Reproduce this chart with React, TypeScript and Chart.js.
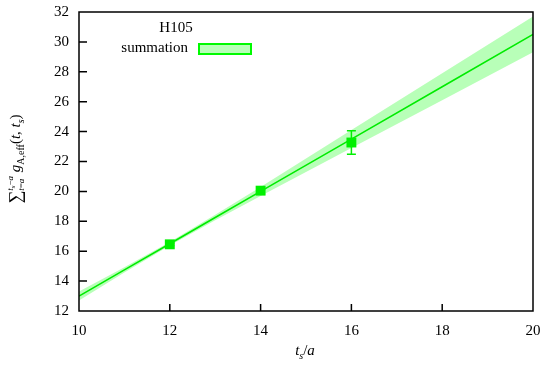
import React, { useEffect, useRef } from "react";
import { Chart, registerables } from "chart.js";

Chart.register(...registerables);

// ---- data ----
const bandX = [10, 11, 12, 13, 14, 16, 18, 20];
const fitCenter = [13.0, 14.75, 16.5, 18.25, 20.0, 23.5, 27.0, 30.5];
const bandUpper = [13.3, 14.93, 16.62, 18.43, 20.3, 24.1, 27.9, 31.7];
const bandLower = [12.7, 14.57, 16.38, 18.07, 19.7, 22.9, 26.1, 29.3];
const pointX = [12, 14, 16];
const pointY = [16.46, 20.05, 23.27];
const pointErr = [0.08, 0.22, 0.79];
const xMin = 10;
const xMax = 20;
const yMin = 12;
const yMax = 32;
const tickStep = 2;
const legendTitle = "H105";
const seriesName = "summation";

const FONT = '"Liberation Serif", "Times New Roman", serif';
const LINE_GREEN = "rgb(0,235,0)";
const POINT_GREEN = "rgb(0,240,0)";
const BAND_FILL = "rgba(0,255,0,0.28)";

type Seg = { t: string; size: number; italic?: boolean; dy?: number };
type Item = Seg | { stack: Seg[][] };

function segFont(s: Seg) {
  return `${s.italic ? "italic " : ""}${s.size}px ${FONT}`;
}
function segsWidth(ctx: CanvasRenderingContext2D, segs: Seg[]) {
  let w = 0;
  for (const s of segs) {
    ctx.font = segFont(s);
    w += ctx.measureText(s.t).width;
  }
  return w;
}
function itemWidth(ctx: CanvasRenderingContext2D, it: Item) {
  if ("stack" in it) return Math.max(...it.stack.map((r) => segsWidth(ctx, r)));
  return segsWidth(ctx, [it]);
}
function drawSegs(ctx: CanvasRenderingContext2D, segs: Seg[], x: number, y: number) {
  let cx = x;
  for (const s of segs) {
    ctx.font = segFont(s);
    ctx.fillText(s.t, cx, y - (s.dy || 0));
    cx += ctx.measureText(s.t).width;
  }
}
function drawRich(
  ctx: CanvasRenderingContext2D,
  items: Item[],
  cx: number,
  cy: number,
  rot: number
) {
  ctx.save();
  ctx.translate(cx, cy);
  ctx.rotate(rot);
  ctx.fillStyle = "#000";
  ctx.textAlign = "left";
  ctx.textBaseline = "alphabetic";
  let total = 0;
  for (const it of items) total += itemWidth(ctx, it);
  let x = -total / 2;
  const baseY = 5;
  for (const it of items) {
    if ("stack" in it) {
      for (const row of it.stack) drawSegs(ctx, row, x, baseY);
    } else {
      drawSegs(ctx, [it], x, baseY);
    }
    x += itemWidth(ctx, it);
  }
  ctx.restore();
}

const yTitleItems: Item[] = [
  { t: "\u2211", size: 18, dy: -1 },
  {
    stack: [
      [
        { t: "t", size: 9, italic: true, dy: 7 },
        { t: "s", size: 7, italic: true, dy: 5 },
        { t: "\u2212", size: 9, dy: 7 },
        { t: "a", size: 9, italic: true, dy: 7 },
      ],
      [
        { t: "t", size: 9, italic: true, dy: -4 },
        { t: "=", size: 9, dy: -4 },
        { t: "a", size: 9, italic: true, dy: -4 },
      ],
    ],
  },
  { t: " g", size: 15, italic: true },
  { t: "A,eff", size: 10, dy: -4 },
  { t: "(", size: 15 },
  { t: "t", size: 15, italic: true },
  { t: ", ", size: 15 },
  { t: "t", size: 15, italic: true },
  { t: "s", size: 10, italic: true, dy: -4 },
  { t: ")", size: 15 },
];

const xTitleItems: Item[] = [
  { t: "t", size: 15, italic: true },
  { t: "s", size: 10, italic: true, dy: -4 },
  { t: "/", size: 15 },
  { t: "a", size: 15, italic: true },
];

const decorPlugin = {
  id: "decor",
  afterDatasetsDraw(chart: any) {
    const ctx: CanvasRenderingContext2D = chart.ctx;
    const xs = chart.scales.x;
    const ys = chart.scales.y;
    ctx.save();
    ctx.strokeStyle = POINT_GREEN;
    ctx.lineWidth = 1.5;
    for (let i = 0; i < pointX.length; i++) {
      const px = xs.getPixelForValue(pointX[i]);
      const top = ys.getPixelForValue(pointY[i] + pointErr[i]);
      const bot = ys.getPixelForValue(pointY[i] - pointErr[i]);
      ctx.beginPath();
      ctx.moveTo(px, top);
      ctx.lineTo(px, bot);
      ctx.moveTo(px - 4.5, top);
      ctx.lineTo(px + 4.5, top);
      ctx.moveTo(px - 4.5, bot);
      ctx.lineTo(px + 4.5, bot);
      ctx.stroke();
    }
    ctx.restore();
  },
  afterDraw(chart: any) {
    const ctx: CanvasRenderingContext2D = chart.ctx;
    const a = chart.chartArea;
    const xs = chart.scales.x;
    const ys = chart.scales.y;
    ctx.save();
    ctx.strokeStyle = "#000";
    ctx.lineWidth = 1.5;
    ctx.strokeRect(a.left, a.top, a.right - a.left, a.bottom - a.top);
    ctx.beginPath();
    for (let v = yMin + tickStep; v < yMax; v += tickStep) {
      const py = ys.getPixelForValue(v);
      ctx.moveTo(a.left, py);
      ctx.lineTo(a.left + 8, py);
    }
    for (let v = xMin + tickStep; v < xMax; v += tickStep) {
      const px = xs.getPixelForValue(v);
      ctx.moveTo(px, a.bottom);
      ctx.lineTo(px, a.bottom - 7);
    }
    ctx.stroke();

    // legend
    ctx.fillStyle = "#000";
    ctx.font = `15px ${FONT}`;
    ctx.textBaseline = "middle";
    ctx.textAlign = "center";
    ctx.fillText(legendTitle, 176, 28);
    ctx.textAlign = "right";
    ctx.fillText(seriesName, 188, 48);
    ctx.fillStyle = "#fff";
    ctx.fillRect(199, 44, 52, 10);
    ctx.fillStyle = BAND_FILL;
    ctx.fillRect(199, 44, 52, 10);
    ctx.strokeStyle = "rgb(0,250,0)";
    ctx.lineWidth = 2;
    ctx.strokeRect(199, 44, 52, 10);

    // titles
    drawRich(ctx, xTitleItems, 305, 350, 0);
    drawRich(ctx, yTitleItems, 15, 159, -Math.PI / 2);
    ctx.restore();
  },
};

export default function App() {
  const ref = useRef<HTMLCanvasElement>(null);
  useEffect(() => {
    if (!ref.current) return;
    const upper = bandX.map((x, i) => ({ x, y: bandUpper[i] }));
    const lower = bandX.map((x, i) => ({ x, y: bandLower[i] }));
    const center = bandX.map((x, i) => ({ x, y: fitCenter[i] }));
    const pts = pointX.map((x, i) => ({ x, y: pointY[i] }));
    const chart = new Chart(ref.current, {
      type: "line",
      data: {
        datasets: [
          {
            data: upper,
            borderWidth: 0,
            borderColor: "rgba(0,0,0,0)",
            pointRadius: 0,
            fill: "+1",
            backgroundColor: BAND_FILL,
            tension: 0,
            order: 3,
          },
          {
            data: lower,
            borderWidth: 0,
            borderColor: "rgba(0,0,0,0)",
            pointRadius: 0,
            fill: false,
            tension: 0,
            order: 3,
          },
          {
            data: center,
            borderWidth: 1.6,
            borderColor: LINE_GREEN,
            pointRadius: 0,
            fill: false,
            tension: 0,
            order: 2,
          },
          {
            data: pts,
            showLine: false,
            pointStyle: "rect",
            pointRadius: 7,
            pointBackgroundColor: POINT_GREEN,
            pointBorderWidth: 0,
            pointBorderColor: POINT_GREEN,
            order: 1,
          },
        ],
      } as any,
      options: {
        animation: false,
        responsive: false,
        devicePixelRatio: 1,
        events: [],
        layout: { padding: { left: 0, right: 10, top: 12, bottom: 0 } },
        plugins: {
          legend: { display: false },
          tooltip: { enabled: false },
          title: { display: false },
        },
        scales: {
          x: {
            type: "linear",
            min: xMin,
            max: xMax,
            grid: { display: false, drawTicks: false },
            border: { display: false },
            ticks: {
              stepSize: tickStep,
              padding: 11,
              color: "#000",
              font: { family: FONT, size: 15 },
              maxRotation: 0,
            },
            afterFit: (s: any) => {
              s.height = 56;
              s.paddingLeft = 0;
              s.paddingRight = 0;
            },
          },
          y: {
            type: "linear",
            min: yMin,
            max: yMax,
            grid: { display: false, drawTicks: false },
            border: { display: false },
            ticks: {
              stepSize: tickStep,
              padding: 10,
              color: "#000",
              font: { family: FONT, size: 15 },
            },
            afterFit: (s: any) => {
              s.width = 79;
              s.paddingTop = 0;
              s.paddingBottom = 0;
            },
          },
        },
      } as any,
      plugins: [decorPlugin],
    });
    return () => chart.destroy();
  }, []);
  return (
    <div style={{ position: "absolute", left: 0, top: 0, width: 543, height: 367, background: "#fff" }}>
      <canvas ref={ref} width={543} height={367} style={{ display: "block" }} />
    </div>
  );
}
